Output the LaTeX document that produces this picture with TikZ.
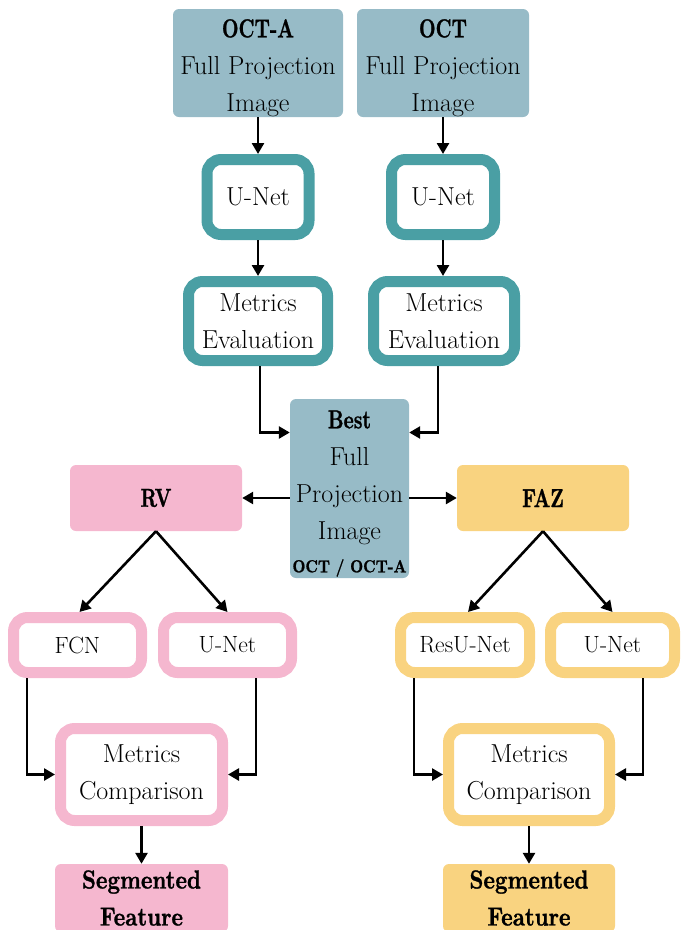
\documentclass[tikz,border=0pt]{standalone}
\usepackage{fontspec}
\usepackage{graphicx}
\setmainfont{Latin Modern Roman}
\newfontface\heavy{lmroman10-bold.otf}[FakeBold=1.2]
\usetikzlibrary{arrows.meta}
\definecolor{bgrey}{RGB}{151,187,199}
\definecolor{teal2}{RGB}{74,159,164}
\definecolor{pink2}{RGB}{245,183,207}
\definecolor{yel2}{RGB}{249,211,128}
\newcommand{\hb}[1]{\scalebox{0.74}[1]{\fontsize{26}{37}\heavy #1}}
\newcommand{\hbs}[1]{\scalebox{0.84}[1]{\fontsize{26}{37}\heavy #1}}
\newcommand{\hbt}[1]{\scalebox{0.86}[1]{\fontsize{17.5}{18}\heavy #1}}
\newcommand{\tup}{\rule{0pt}{28pt}}
\begin{document}
\begin{tikzpicture}[x=1pt,y=-1pt,
  every node/.style={font=\fontsize{26}{37}\selectfont, align=center, inner sep=0pt},
  fillbox/.style={fill=#1, rounded corners=6pt},
  ringbox/.style={draw=#1, line width=11pt, fill=white, rounded corners=14pt},
  small/.style={font=\fontsize{23.5}{30}\selectfont},
  conn/.style={line width=2.6pt, -{Triangle[length=11pt,width=12pt]}}
]
\useasboundingbox (0,0) rectangle (681,930);
% top row
\node[fillbox=bgrey, minimum width=170pt, minimum height=108pt] (octa) at (258,63) {\tup\hb{OCT-A}\\Full Projection\\Image};
\node[fillbox=bgrey, minimum width=172pt, minimum height=108pt] (oct) at (443,63) {\tup\hb{OCT}\\Full Projection\\Image};
\node[ringbox=teal2, minimum width=102pt, minimum height=75pt] (unet1) at (258,197) {U-Net};
\node[ringbox=teal2, minimum width=103pt, minimum height=75pt] (unet2) at (443,197) {U-Net};
\node[ringbox=teal2, minimum width=139pt, minimum height=79pt] (me1) at (258,321) {Metrics\\Evaluation};
\node[ringbox=teal2, minimum width=141pt, minimum height=79pt] (me2) at (444,321) {Metrics\\Evaluation};
\node[fillbox=bgrey, minimum width=119pt, minimum height=179pt] (best) at (349.5,488.5) {\tup\hb{Best}\\Full\\Projection\\Image\\[-4pt]\hbt{OCT / OCT-A}};
% RV branch
\node[fillbox=pink2, minimum width=172pt, minimum height=66pt] (rv) at (156,498) {\hb{RV}};
\node[ringbox=pink2, small, minimum width=128pt, minimum height=55pt] (fcn) at (77.5,645) {FCN};
\node[ringbox=pink2, small, minimum width=128pt, minimum height=55pt] (unetp) at (227.5,645) {U-Net};
\node[ringbox=pink2, minimum width=162pt, minimum height=92pt] (mc1) at (141.5,774.5) {Metrics\\Comparison};
\node[fillbox=pink2, minimum width=173pt, minimum height=68pt] (seg1) at (141.5,898) {\hbs{Segmented}\\\hbs{Feature}};
% FAZ branch
\node[fillbox=yel2, minimum width=172pt, minimum height=66pt] (faz) at (543,498) {\hb{FAZ}};
\node[ringbox=yel2, small, minimum width=129pt, minimum height=55pt] (resu) at (465,645) {ResU-Net};
\node[ringbox=yel2, small, minimum width=124pt, minimum height=55pt] (uney) at (612.5,645) {U-Net};
\node[ringbox=yel2, minimum width=161pt, minimum height=92pt] (mc2) at (529,774.5) {Metrics\\Comparison};
\node[fillbox=yel2, minimum width=172pt, minimum height=68pt] (seg2) at (529,898) {\hbs{Segmented}\\\hbs{Feature}};
% connectors
\draw[conn] (octa.south) -- (unet1.north);
\draw[conn] (oct.south) -- (unet2.north);
\draw[conn] (unet1.south) -- (unet1.south |- me1.north);
\draw[conn] (unet2.south) -- (unet2.south |- me2.north);
\draw[conn] ([xshift=2pt]me1.south) |- ([yshift=56pt]best.west);
\draw[conn] ([xshift=-6pt]me2.south) |- ([yshift=56pt]best.east);
\draw[conn] (best.west |- rv.east) -- (rv.east);
\draw[conn] (best.east |- faz.west) -- (faz.west);
\draw[conn] (rv.south) -- ([xshift=2pt]fcn.north);
\draw[conn] (rv.south) -- (unetp.north);
\draw[conn] (faz.south) -- ([xshift=3pt]resu.north);
\draw[conn] (faz.south) -- (uney.north);
\draw[conn] ([xshift=-50.5pt]fcn.south) |- (mc1.west);
\draw[conn] ([xshift=28.5pt]unetp.south) |- (mc1.east);
\draw[conn] ([xshift=-51pt]resu.south) |- (mc2.west);
\draw[conn] ([xshift=30.5pt]uney.south) |- (mc2.east);
\draw[conn] (mc1.south) -- (seg1.north);
\draw[conn] (mc2.south) -- (seg2.north);
\end{tikzpicture}
\end{document}
